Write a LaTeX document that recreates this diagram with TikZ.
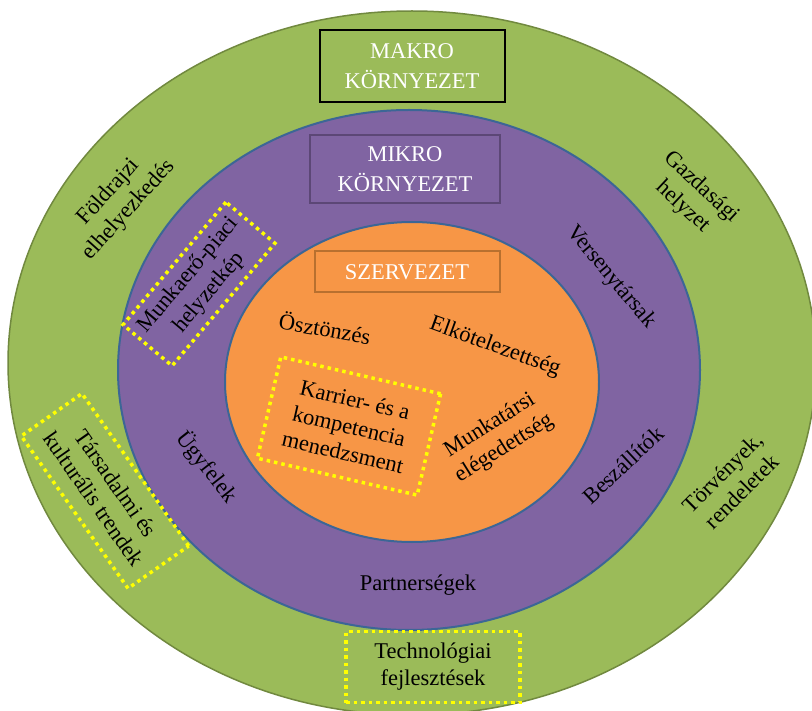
\documentclass[tikz,border=0pt]{standalone}
\usepackage{fontspec}
\setmainfont{Liberation Serif}
\usepackage{xcolor}
\usetikzlibrary{shapes,positioning}

\definecolor{makrogreen}{HTML}{9BBB59}
\definecolor{makroline}{HTML}{71893F}
\definecolor{mikropurple}{HTML}{8064A2}
\definecolor{mikroline}{HTML}{5C4776}
\definecolor{szervorange}{HTML}{F79646}
\definecolor{szervline}{HTML}{B8702F}
\definecolor{ringblue}{HTML}{3C6696}
\definecolor{dotyellow}{HTML}{FFFF00}

\begin{document}
\begin{tikzpicture}[x=1pt, y=-1pt,
    lbl/.style={align=center, inner sep=0pt, font=\fontsize{22.5}{27}\selectfont},
    dotbox/.style={lbl, draw=dotyellow, line width=3.5pt, dash pattern=on 3.5pt off 4pt},
    titlebox/.style={lbl, line width=2pt, text=white, font=\fontsize{22.5}{30}\selectfont}]

    % page
    \fill[white] (0,0) rectangle (812,711);
    \clip (0,0) rectangle (812,711);

    % the three rings
    \filldraw[fill=makrogreen, draw=makroline, line width=1.5pt]
        (412,363) ellipse [x radius=404, y radius=352];
    \filldraw[fill=mikropurple, draw=ringblue, line width=2pt]
        (409,370) ellipse [x radius=291, y radius=260];
    \filldraw[fill=szervorange, draw=ringblue, line width=2pt]
        (412,382) ellipse [x radius=187, y radius=160];

    % titles
    \node[titlebox, draw=black, fill=makrogreen, minimum width=185pt, minimum height=72pt]
        (makro) at (412,66) {MAKRO\\KÖRNYEZET};
    \node[titlebox, draw=mikroline, fill=mikropurple, minimum width=190pt, minimum height=68pt]
        (mikro) at (405,169) {MIKRO\\KÖRNYEZET};
    \node[titlebox, draw=szervline, fill=szervorange, minimum width=185pt, minimum height=41pt]
        (szervezet) at (407,272) {SZERVEZET};

    % makro environment
    \node[lbl, rotate=48] (foldrajzi) at (119,201) {Földrajzi\\elhelyezkedés};
    \node[lbl, rotate=-43] (gazdasag) at (692,197) {Gazdasági\\helyzet};
    \node[lbl, rotate=45] (torvenyek) at (732,482) {Törvények,\\rendeletek};
    \node[dotbox, rotate=-55, minimum width=186pt, minimum height=74pt]
        (tarsadalmi) at (105,491) {Társadalmi és\\kulturális trendek};
    \node[dotbox, minimum width=174pt, minimum height=71pt]
        (technologia) at (433,667) {Technológiai\\fejlesztések};

    % mikro environment
    \node[dotbox, rotate=50, minimum width=160pt, minimum height=64pt]
        (munkaero) at (199,284) {Munkaerő-piaci\\helyzetkép};
    \node[lbl, rotate=-50] (verseny) at (611,277) {Versenytársak};
    \node[lbl, rotate=43] (beszallitok) at (623,465) {Beszállítók};
    \node[lbl, rotate=-52] (ugyfelek) at (207,467) {Ügyfelek};
    \node[lbl] (partner) at (418,585) {Partnerségek};

    % organisation
    \node[lbl, rotate=-10] (osztonzes) at (325,328) {Ösztönzés};
    \node[lbl, rotate=-20] (elkotelez) at (495,347) {Elkötelezettség};
    \node[lbl, rotate=32] (munkatarsi) at (497,437) {Munkatársi\\elégedettség};
    \node[dotbox, rotate=-13, minimum width=164pt, minimum height=104pt]
        (karrier) at (349,426) {Karrier- és a\\kompetencia\\menedzsment};
\end{tikzpicture}
\end{document}
